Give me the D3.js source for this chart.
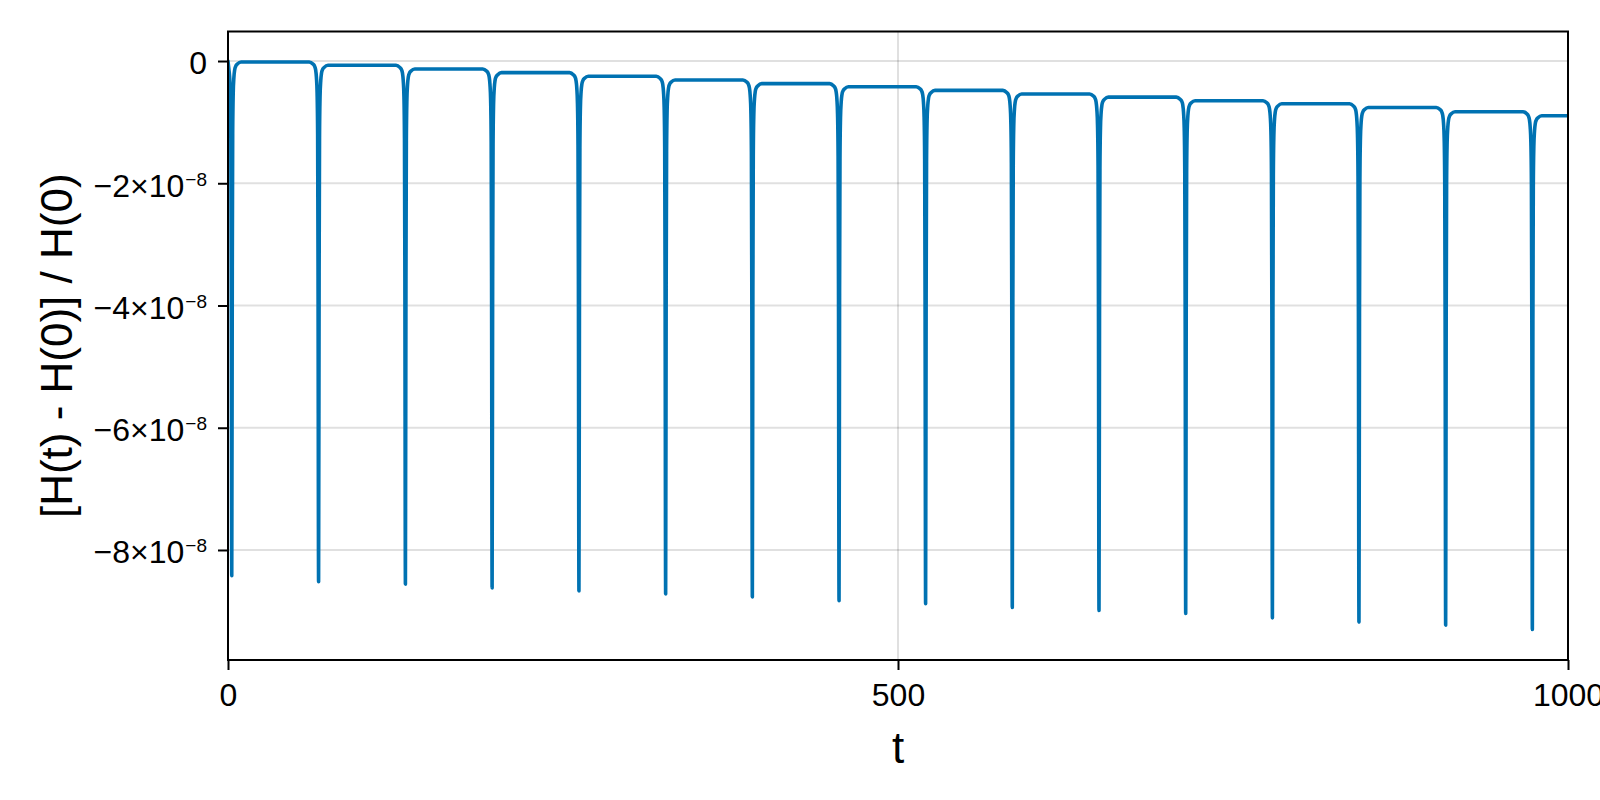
<!DOCTYPE html>
<html>
<head>
<meta charset="utf-8">
<script src="https://cdn.jsdelivr.net/npm/d3@7"></script>
<style>
  body { margin: 0; background: white; }
  svg text { font-family: "Liberation Sans", Arial, sans-serif; fill: black; }
</style>
</head>
<body>
<svg id="chart" width="1600" height="800"></svg>
<script>
// t of each sharp dip
let dip_t = [2.8, 67.6, 132.4, 197.1, 261.9, 326.6, 391.3, 456.0, 520.6, 585.3, 650.0, 714.7, 779.4, 844.0, 908.7, 973.4];
// value at the bottom of each dip
let dip_min = [-8.42e-8, -8.52e-8, -8.56e-8, -8.62e-8, -8.67e-8, -8.72e-8, -8.77e-8, -8.83e-8,
               -8.88e-8, -8.94e-8, -8.99e-8, -9.04e-8, -9.11e-8, -9.18e-8, -9.23e-8, -9.30e-8];
// flat level after each dip
let level_after = [-0.016e-8, -0.07e-8, -0.13e-8, -0.19e-8, -0.25e-8, -0.31e-8, -0.37e-8, -0.42e-8,
                   -0.48e-8, -0.54e-8, -0.59e-8, -0.65e-8, -0.70e-8, -0.76e-8, -0.83e-8, -0.895e-8];
let start_level = 0;
let t_end = 1000;
// shape of one dip: offset in t, fraction of the dip depth
let dip_dt   = [-7, -4.2, -3, -2.2, -1.6, -1.1, -0.7, -0.4, 0, 0.4, 0.7, 1.1, 1.6, 2.2, 3, 4.2, 7];
let dip_frac = [0, 0.004, 0.008, 0.015, 0.03, 0.06, 0.14, 0.4, 1, 0.4, 0.14, 0.06, 0.03, 0.015, 0.008, 0.004, 0];

let x_ticks = [0, 500, 1000];
let y_ticks = [0, -2e-8, -4e-8, -6e-8, -8e-8];
let y_tick_base = ["0", "−2×10", "−4×10", "−6×10", "−8×10"];
let y_tick_exp = ["", "−8", "−8", "−8", "−8"];

const svg = d3.select("svg#chart");
const m_left = 228, m_right = 1568, m_top = 31.5, m_bottom = 660;

const x = d3.scaleLinear().domain([0, 1000]).range([m_left, m_right]);
const y = d3.scaleLinear().domain([-9.80e-8, 0.483e-8]).range([m_bottom, m_top]);

svg.append("rect").attr("width", 1600).attr("height", 800).attr("fill", "white");

// grid
svg.append("g").selectAll("line").data(y_ticks).join("line")
  .attr("x1", m_left).attr("x2", m_right)
  .attr("y1", d => y(d)).attr("y2", d => y(d))
  .attr("stroke", "rgba(0,0,0,0.12)").attr("stroke-width", 2);
svg.append("g").selectAll("line").data(x_ticks).join("line")
  .attr("x1", d => x(d)).attr("x2", d => x(d))
  .attr("y1", m_top).attr("y2", m_bottom)
  .attr("stroke", "rgba(0,0,0,0.12)").attr("stroke-width", 2);

// build the curve points from the dip tables
let points = [[0, start_level]];
let prev = start_level;
for (let i = 0; i < dip_t.length; i++) {
  let next = level_after[i];
  for (let j = 0; j < dip_dt.length; j++) {
    let t = dip_t[i] + dip_dt[j];
    if (t <= 0) continue;
    let base = dip_dt[j] < 0 ? prev : next;
    points.push([t, base + dip_frac[j] * (dip_min[i] - base)]);
  }
  prev = next;
}
points.push([t_end, prev]);

svg.append("clipPath").attr("id", "clip")
  .append("rect").attr("x", m_left).attr("y", m_top)
  .attr("width", m_right - m_left).attr("height", m_bottom - m_top);

const line = d3.line()
  .x(d => x(d[0]))
  .y(d => y(d[1]))
  .curve(d3.curveMonotoneX);

svg.append("path")
  .datum(points)
  .attr("clip-path", "url(#clip)")
  .attr("d", line)
  .attr("fill", "none")
  .attr("stroke", "#0072B2")
  .attr("stroke-width", 3.6)
  .attr("stroke-linejoin", "round")
  .attr("stroke-linecap", "round");

// spines
svg.append("rect")
  .attr("x", m_left).attr("y", m_top)
  .attr("width", m_right - m_left).attr("height", m_bottom - m_top)
  .attr("fill", "none").attr("stroke", "black").attr("stroke-width", 2);

// x axis
const gx = svg.append("g")
  .attr("transform", "translate(0," + m_bottom + ")")
  .call(d3.axisBottom(x).tickValues(x_ticks).tickSize(10).tickSizeOuter(0).tickPadding(13).tickFormat(d3.format("d")));
gx.select(".domain").remove();
gx.selectAll(".tick line").attr("stroke", "black").attr("stroke-width", 2);
gx.selectAll(".tick text").attr("font-size", 32).attr("fill", "black");

// y axis
const gy = svg.append("g")
  .attr("transform", "translate(" + m_left + ",0)")
  .call(d3.axisLeft(y).tickValues(y_ticks).tickSize(10).tickSizeOuter(0).tickPadding(11));
gy.select(".domain").remove();
gy.selectAll(".tick line").attr("stroke", "black").attr("stroke-width", 2);
gy.selectAll(".tick text").each(function (d, i) {
  let txt = d3.select(this);
  txt.text("").attr("font-size", 32).attr("fill", "black")
    .attr("dy", null).attr("y", y_tick_exp[i] ? 13 : 12);
  txt.append("tspan").text(y_tick_base[i]);
  if (y_tick_exp[i]) {
    txt.append("tspan").attr("font-size", 19).attr("dx", 1).attr("dy", -11).text(y_tick_exp[i]);
  }
});

// axis labels
svg.append("text")
  .attr("x", (m_left + m_right) / 2).attr("y", 763)
  .attr("text-anchor", "middle").attr("font-size", 44)
  .text("t");

svg.append("text")
  .attr("transform", "translate(72," + (m_top + m_bottom) / 2 + ") rotate(-90)")
  .attr("text-anchor", "middle").attr("font-size", 44)
  .text("[H(t) - H(0)] / H(0)");
</script>
</body>
</html>
